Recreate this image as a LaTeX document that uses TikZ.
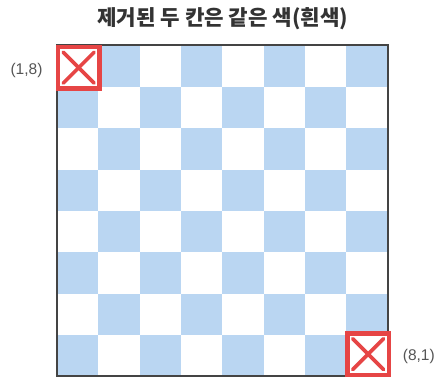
\documentclass[tikz,border=0pt]{standalone}
\usepackage{fontspec}
\setmainfont{Liberation Sans}
\newfontfamily\kr{Noto Sans CJK KR}
\definecolor{cellblue}{HTML}{BAD6F2}
\definecolor{xred}{HTML}{E64545}
\definecolor{outline}{HTML}{444444}
\definecolor{titlegray}{HTML}{333333}
\definecolor{labelgray}{HTML}{555555}
\tikzset{
  bluecell/.style={fill=cellblue, draw=none},
  removedbox/.style={draw=xred, line width=4.5pt, fill=white},
  xmark/.style={draw=xred, line width=3.6pt, line cap=round},
  coordlabel/.style={text=labelgray, font=\fontsize{15.5}{17}\selectfont, inner sep=0pt},
  titlestyle/.style={text=titlegray, font=\kr\bfseries\fontsize{21.2}{24}\selectfont, inner sep=0pt}
}
\begin{document}
\begin{tikzpicture}[x=1pt,y=-1pt]
\useasboundingbox (0,0) rectangle (435,379);
\def\L{57}\def\T{45.5}\def\C{41.35}
% cells
\foreach \r in {0,...,7}{
  \foreach \c in {0,...,7}{
    \pgfmathtruncatemacro{\parity}{mod(\r+\c,2)}
    \ifnum\parity=1
      \fill[cellblue] ({\L+\c*\C},{\T+\r*\C}) rectangle ({\L+(\c+1)*\C},{\T+(\r+1)*\C});
    \fi
  }
}
\draw[outline, line width=2pt] (\L,\T) rectangle ({\L+8*\C},{\T+8*\C});
% removed squares
\node[removedbox, minimum size=41.5pt, inner sep=0pt] (r18) at ({\L+0.5*\C+1},{\T+0.5*\C+1.5}) {};
\draw[xmark] ([shift={(-15.5,-15.5)}]r18.center) -- ([shift={(15.5,15.5)}]r18.center);
\draw[xmark] ([shift={(-15.5,15.5)}]r18.center) -- ([shift={(15.5,-15.5)}]r18.center);
\node[removedbox, minimum size=41.5pt, inner sep=0pt] (r81) at ({\L+7.5*\C+1},{\T+7.5*\C-1.5}) {};
\draw[xmark] ([shift={(-15.5,-15.5)}]r81.center) -- ([shift={(15.5,15.5)}]r81.center);
\draw[xmark] ([shift={(-15.5,15.5)}]r81.center) -- ([shift={(15.5,-15.5)}]r81.center);
% labels
\node[coordlabel] (l18) at (26.5,70.7) {(1,8)};
\node[coordlabel] (l81) at (418.8,356.7) {(8,1)};
\node[titlestyle] (title) at (222.8,19) {제거된 두 칸은 같은 색(흰색)};
\end{tikzpicture}
\end{document}
